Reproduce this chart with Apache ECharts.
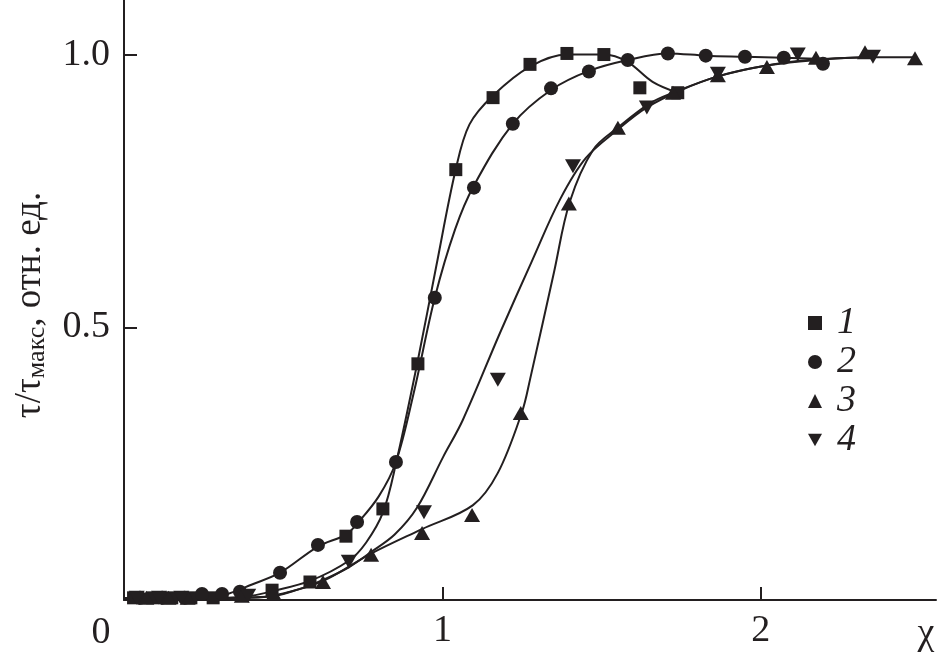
<!DOCTYPE html>
<html>
<head>
<meta charset="utf-8">
<script src="https://cdn.jsdelivr.net/npm/echarts@6/dist/echarts.min.js"></script>
<style>
html,body{margin:0;padding:0;background:#fff;}
#chart{width:938px;height:659px;}
</style>
</head>
<body>
<div id="chart"></div>
<script>
// ---- data ----
const seriesNames = ['1', '2', '3', '4'];
const xTicks = [0, 1, 2];
const yTicks = [0, 0.5, 1.0];

// markers (x = χ, y = τ/τмакс)
const points1 = [[0.03,0.004],[0.09,0.004],[0.15,0.004],[0.21,0.004],[0.28,0.004],[0.465,0.018],[0.584,0.033],[0.697,0.117],[0.813,0.167],[0.923,0.433],[1.042,0.789],[1.159,0.921],[1.275,0.982],[1.391,1.002],[1.507,1.0],[1.620,0.939],[1.739,0.930]];
const points2 = [[0.05,0.004],[0.12,0.004],[0.19,0.004],[0.245,0.011],[0.308,0.011],[0.364,0.015],[0.490,0.050],[0.609,0.101],[0.732,0.143],[0.854,0.253],[0.976,0.554],[1.099,0.756],[1.221,0.873],[1.341,0.938],[1.460,0.969],[1.582,0.990],[1.708,1.002],[1.827,0.998],[1.950,0.996],[2.072,0.994],[2.195,0.983]];
const points3 = [[0.07,0.004],[0.14,0.004],[0.20,0.004],[0.37,0.008],[0.47,0.012],[0.625,0.033],[0.776,0.083],[0.936,0.123],[1.093,0.156],[1.246,0.343],[1.397,0.727],[1.551,0.866],[1.724,0.930],[1.865,0.962],[2.019,0.977],[2.173,0.994],[2.327,1.004],[2.484,0.993]];
const points4 = [[0.04,0.004],[0.11,0.004],[0.18,0.004],[0.39,0.008],[0.706,0.070],[0.942,0.161],[1.174,0.404],[1.410,0.795],[1.642,0.903],[1.865,0.965],[2.116,1.0],[2.352,0.996]];

// fitted curves
const curve1 = [[0,0.003],[0.30,0.003],[0.40,0.008],[0.465,0.016],[0.584,0.035],[0.706,0.072],[0.76,0.105],[0.813,0.16],[0.854,0.25],[0.923,0.44],[0.98,0.61],[1.042,0.79],[1.085,0.872],[1.159,0.925],[1.275,0.978],[1.391,1.0],[1.507,1.0],[1.58,0.987],[1.66,0.95],[1.739,0.93]];
const curve2 = [[0,0.003],[0.26,0.004],[0.33,0.012],[0.40,0.028],[0.49,0.05],[0.609,0.098],[0.697,0.12],[0.732,0.14],[0.80,0.19],[0.854,0.253],[0.91,0.38],[0.976,0.554],[1.04,0.68],[1.099,0.76],[1.221,0.873],[1.341,0.935],[1.46,0.97],[1.582,0.99],[1.708,1.002],[1.827,0.998],[1.95,0.996],[2.072,0.994],[2.20,0.992]];
const curve3 = [[0,0.003],[0.40,0.004],[0.50,0.012],[0.625,0.035],[0.776,0.085],[0.936,0.13],[1.096,0.174],[1.174,0.233],[1.25,0.345],[1.275,0.404],[1.35,0.60],[1.40,0.73],[1.473,0.825],[1.551,0.866],[1.65,0.91],[1.724,0.93],[1.865,0.96],[2.019,0.98],[2.173,0.99],[2.327,0.995],[2.484,0.995]];
const curve4 = [[0,0.003],[0.45,0.006],[0.55,0.02],[0.625,0.037],[0.706,0.06],[0.776,0.088],[0.85,0.12],[0.92,0.169],[1.002,0.262],[1.064,0.33],[1.181,0.49],[1.28,0.62],[1.369,0.734],[1.45,0.81],[1.55,0.862],[1.642,0.903],[1.75,0.935],[1.865,0.96],[2.0,0.978],[2.15,0.99],[2.35,0.995]];

// ---- chart ----
const INK = '#231f20';
const FONT = 'Liberation Serif';
const downTri = 'path://M0,0 L10,0 L5,9 Z';
const symbols = ['rect', 'circle', 'triangle', downTri];
const sizes = [[13,13], 14, [16,14], [16,14]];
const pointSets = [points1, points2, points3, points4];
const curves = [curve1, curve2, curve3, curve4];

const series = [];
curves.forEach((c, i) => {
  series.push({
    name: 'curve' + (i + 1), type: 'line', data: c, smooth: 0.35,
    showSymbol: false, silent: true, z: 2,
    lineStyle: { color: INK, width: 2 }
  });
});
pointSets.forEach((p, i) => {
  series.push({
    name: seriesNames[i], type: 'scatter', data: p, symbol: symbols[i],
    symbolSize: sizes[i], z: 3, itemStyle: { color: INK, opacity: 1 }
  });
});

const chart = echarts.init(document.getElementById('chart'));
chart.setOption({
  animation: false,
  backgroundColor: '#fff',
  grid: { left: 124, right: 2, top: 0, bottom: 59, containLabel: false, outerBoundsMode: 'none' },
  xAxis: {
    type: 'value', min: 0, max: 2.55, interval: 1,
    axisLine: { lineStyle: { color: INK, width: 2 } },
    axisTick: { inside: true, length: 13, lineStyle: { color: INK, width: 2 } },
    splitLine: { show: false },
    axisLabel: {
      color: INK, fontFamily: FONT, fontSize: 38, margin: 12, showMaxLabel: false,
      formatter: v => (v === 0 ? '' : String(v))
    }
  },
  yAxis: {
    type: 'value', min: 0, max: 1.1, interval: 0.5,
    axisLine: { lineStyle: { color: INK, width: 2 } },
    axisTick: { inside: true, length: 13, lineStyle: { color: INK, width: 2 } },
    splitLine: { show: false },
    axisLabel: {
      color: INK, fontFamily: FONT, fontSize: 38, margin: 14, showMaxLabel: false,
      formatter: v => (v === 0 ? '' : v.toFixed(1))
    }
  },
  legend: {
    data: seriesNames.map((n, i) => ({ name: n, icon: symbols[i] })),
    orient: 'vertical', left: 803, top: 299,
    itemWidth: 14, itemHeight: 14, itemGap: 1,
    textStyle: { color: INK, fontFamily: FONT, fontStyle: 'italic', fontSize: 38, lineHeight: 36, padding: [0,0,0,10] },
    itemStyle: { color: INK, opacity: 1 }
  },
  graphic: [
    { type: 'text', x: 101, y: 633, style: { text: '0', fontFamily: FONT, fontSize: 38, fill: INK, align: 'center', verticalAlign: 'middle' } },
    { type: 'text', x: 926, y: 634, style: { text: 'χ', fontFamily: FONT, fontSize: 38, fill: INK, align: 'center', verticalAlign: 'middle' } },
    { type: 'text', x: 30, y: 305, rotation: Math.PI / 2,
      style: {
        text: '{a|τ/τ}{s|макс}{a|, отн. ед.}',
        fill: INK, align: 'center', verticalAlign: 'middle',
        rich: {
          a: { fontFamily: FONT, fontSize: 37, lineHeight: 40, fill: INK },
          s: { fontFamily: FONT, fontSize: 26, lineHeight: 26, verticalAlign: 'bottom', padding: [11,0,0,0], fill: INK }
        }
      } }
  ],
  series: series
});
</script>
</body>
</html>
